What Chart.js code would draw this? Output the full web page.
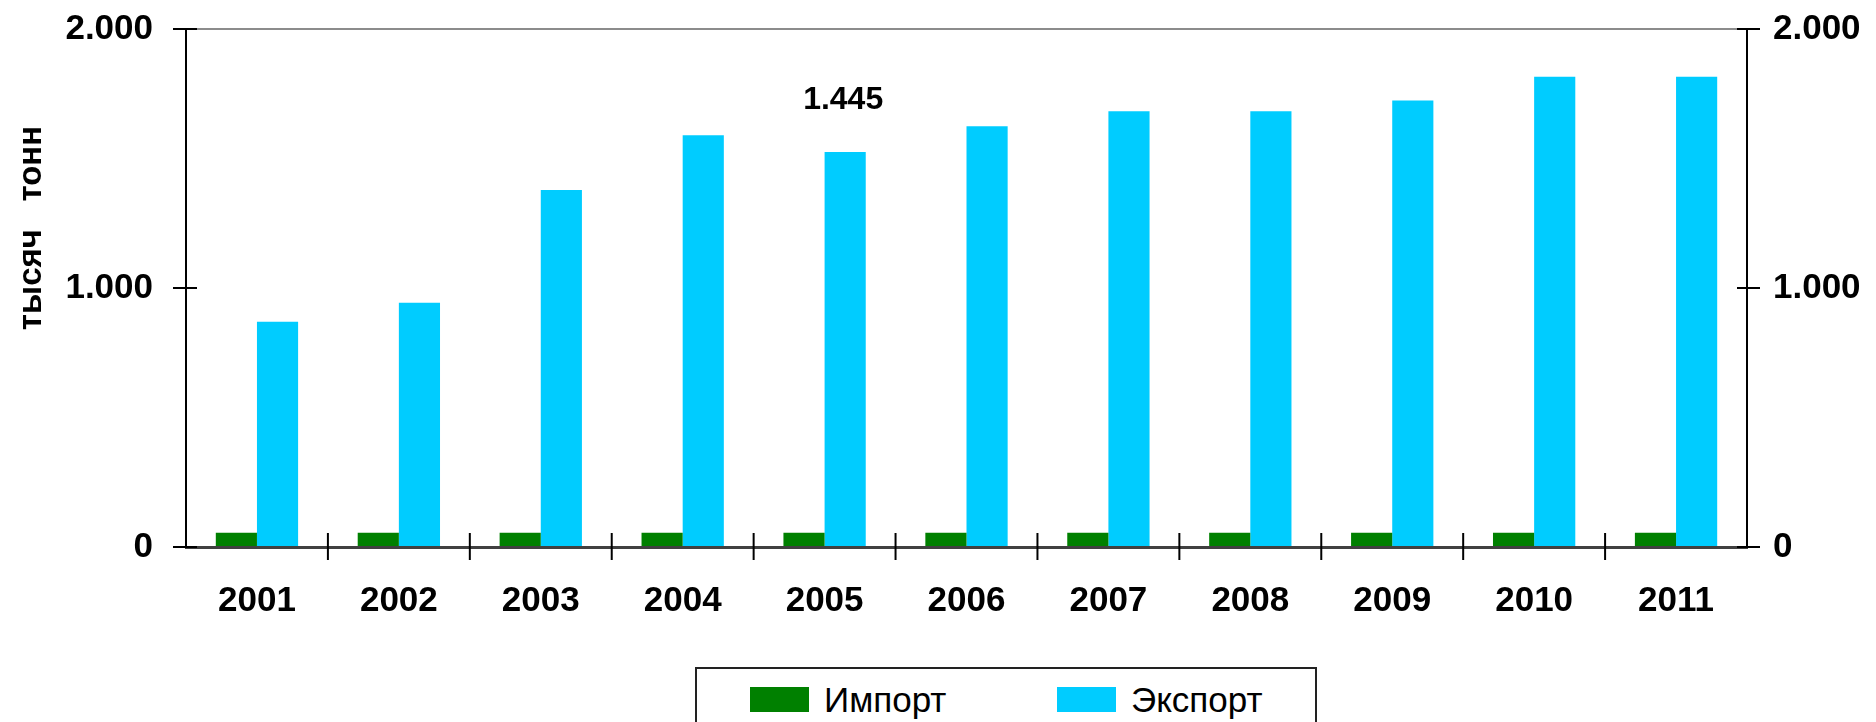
<!DOCTYPE html>
<html>
<head>
<meta charset="utf-8">
<script src="https://cdn.jsdelivr.net/npm/chart.js@4.4.1/dist/chart.umd.min.js"></script>
<style>
html,body{margin:0;padding:0;background:#fff;}
#wrap{position:relative;width:1876px;height:722px;overflow:hidden;}
#legend{position:absolute;left:695px;top:667px;width:618px;height:80px;border:2px solid #222;font-family:"Liberation Sans",Arial,sans-serif;font-size:35px;color:#000;background:#fff;}
.item{position:absolute;top:18px;height:25px;display:flex;align-items:center;white-space:nowrap;}
.sw{width:59px;height:25px;margin-right:15px;}
</style>
</head>
<body>
<div id="wrap">
  <canvas id="bar" width="1876" height="722"></canvas>
  <div id="legend"></div>
</div>
<script>
const years = ['2001','2002','2003','2004','2005','2006','2007','2008','2009','2010','2011'];
const importValues = [55, 55, 55, 55, 55, 55, 55, 55, 55, 55, 55];
const exportValues = [870, 943, 1378, 1590, 1525, 1625, 1682, 1682, 1724, 1816, 1816];
const seriesNames = ['Импорт', 'Экспорт'];
const seriesColors = ['#008000', '#00ccff'];
const yMin = 0, yMax = 2000, yStep = 1000;
const axisTitle = 'тысяч   тонн';
const noteIndex = 4;
const noteText = '1.445';

const FONT = '"Liberation Sans", Arial, sans-serif';
Chart.defaults.font.family = FONT;

function fmt(v){
    return String(v).replace(/\B(?=(\d{3})+(?!\d))/g, '.');
}

function line(ctx, x1, y1, x2, y2){
    ctx.beginPath();
    ctx.moveTo(x1, y1);
    ctx.lineTo(x2, y2);
    ctx.stroke();
}

// tick marks crossing the axes, like the original
const tickMarks = {
    id:'tickMarks',
    afterDraw(chart){
        const {ctx, scales:{x, y, y2}} = chart;
        ctx.save();
        ctx.strokeStyle = '#000';
        ctx.lineWidth = 2;
        y.ticks.forEach(t => {
            const py = y.getPixelForValue(t.value);
            line(ctx, y.right - 13, py, y.right + 11, py);
        });
        y2.ticks.forEach(t => {
            const py = y2.getPixelForValue(t.value);
            line(ctx, y2.left - 10, py, y2.left + 13, py);
        });
        for(let i = 1; i < years.length; i++){
            const px = (x.getPixelForValue(i - 1) + x.getPixelForValue(i)) / 2;
            line(ctx, px, x.top - 14, px, x.top + 13);
        }
        ctx.restore();
    }
};

const extraText = {
    id:'extraText',
    afterDraw(chart){
        const ctx = chart.ctx;
        ctx.save();
        ctx.fillStyle = '#000';
        // axis title
        ctx.translate(32, 228);
        ctx.rotate(-Math.PI / 2);
        ctx.font = 'bold 33px ' + FONT;
        ctx.textAlign = 'center';
        ctx.textBaseline = 'middle';
        ctx.fillText(axisTitle, 0, 0);
        ctx.restore();
        // value note above the 2005 export bar
        const bar = chart.getDatasetMeta(1).data[noteIndex];
        ctx.save();
        ctx.fillStyle = '#000';
        ctx.font = 'bold 32px ' + FONT;
        ctx.textAlign = 'center';
        ctx.textBaseline = 'middle';
        ctx.fillText(noteText, bar.x - 2, bar.y - 52);
        ctx.restore();
    }
};

const tickFont = {size:35, weight:'bold'};

function fitY(w){
    return function(s){
        s.width = w;
        s.paddingTop = 0;
        s.paddingBottom = 0;
    };
}

new Chart('bar', {
    type:'bar',
    data:{
        labels:years,
        datasets:[
            {label:seriesNames[0], data:importValues, backgroundColor:seriesColors[0]},
            {label:seriesNames[1], data:exportValues, backgroundColor:seriesColors[1]}
        ]
    },
    options:{
        responsive:false,
        animation:false,
        categoryPercentage:0.58,
        barPercentage:1.0,
        layout:{padding:{top:29, left:0, right:0, bottom:0}},
        plugins:{
            legend:{display:false},
            tooltip:{enabled:false}
        },
        scales:{
            x:{
                offset:true,
                grid:{display:true, drawOnChartArea:false, drawTicks:false, color:'rgba(0,0,0,0)'},
                border:{display:true, color:'#404040', width:3},
                ticks:{font:tickFont, color:'#000', padding:33, maxRotation:0, autoSkip:false},
                afterFit(s){ s.height = 175; s.paddingLeft = 0; s.paddingRight = 0; }
            },
            y:{
                position:'left',
                min:yMin, max:yMax,
                ticks:{stepSize:yStep, callback:fmt, font:tickFont, color:'#000', padding:33},
                grid:{drawTicks:false, lineWidth:2, color:c => (c.tick && c.tick.value === yMax) ? '#8c8c8c' : 'rgba(0,0,0,0)'},
                border:{display:true, color:'#000', width:2},
                afterFit:fitY(186)
            },
            y2:{
                position:'right',
                min:yMin, max:yMax,
                ticks:{stepSize:yStep, callback:fmt, font:tickFont, color:'#000', padding:26},
                grid:{display:false, drawTicks:false},
                border:{display:true, color:'#000', width:2},
                afterFit:fitY(129)
            }
        }
    },
    plugins:[tickMarks, extraText]
});

// legend box under the chart
const legend = document.getElementById('legend');
const itemLeft = [53, 360];
seriesNames.forEach((name, i) => {
    const item = document.createElement('div');
    item.className = 'item';
    item.style.left = itemLeft[i] + 'px';
    item.innerHTML = '<span class="sw" style="background:' + seriesColors[i] + '"></span><span>' + name + '</span>';
    legend.appendChild(item);
});
</script>
</body>
</html>
